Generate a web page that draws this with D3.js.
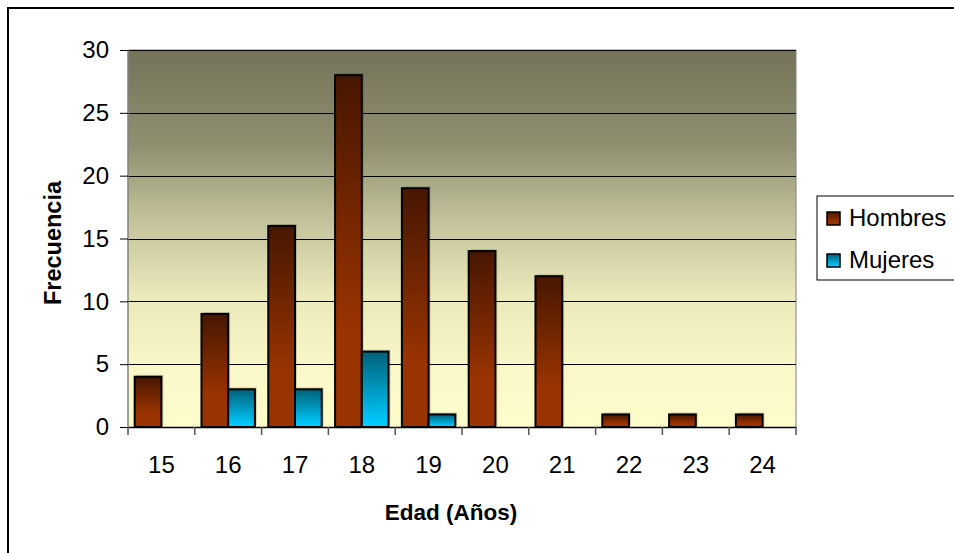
<!DOCTYPE html>
<html><head><meta charset="utf-8">
<script src="https://cdn.jsdelivr.net/npm/d3@7"></script>
<style>body{margin:0;background:#fff}svg{display:block}text{font-family:"Liberation Sans",Arial,sans-serif;fill:#000}</style>
</head><body><svg id="c" width="954" height="553"></svg>
<script>
const categories = ["15","16","17","18","19","20","21","22","23","24"];
const hombres = [4,9,16,28,19,14,12,1,1,1];
const mujeres = [0,3,3,6,1,0,0,0,0,0];
const seriesNames = ["Hombres","Mujeres"];
const yTicks = [0,5,10,15,20,25,30];

const FS = 24;
const svg = d3.select("#c");
const m = {l:128, r:796, t:50, b:427};
const defs = svg.append("defs");
const bg = defs.append("linearGradient").attr("id","bg").attr("x1",0).attr("y1",0).attr("x2",0).attr("y2",1);
[[0,"#74735a"],[0.25,"#8f8f70"],[0.45,"#c3c29b"],[0.65,"#ebe8ba"],[0.85,"#faf7c8"],[1,"#fffccc"]].forEach(s=>bg.append("stop").attr("offset",s[0]).attr("stop-color",s[1]));
const gH = defs.append("linearGradient").attr("id","gH").attr("x1",0).attr("y1",0).attr("x2",0).attr("y2",1);
[[0,"#471600"],[0.72,"#993300"],[1,"#993300"]].forEach(s=>gH.append("stop").attr("offset",s[0]).attr("stop-color",s[1]));
const gM = defs.append("linearGradient").attr("id","gM").attr("x1",0).attr("y1",0).attr("x2",0).attr("y2",1);
[[0,"#006078"],[0.95,"#00ccff"],[1,"#00ccff"]].forEach(s=>gM.append("stop").attr("offset",s[0]).attr("stop-color",s[1]));

// outer frame
svg.append("rect").attr("x",8).attr("y",8).attr("width",960).attr("height",560).attr("fill","#fff").attr("stroke","#000").attr("stroke-width",2);

const x = d3.scaleBand().domain(categories).range([m.l,m.r]);
const x1 = d3.scaleBand().domain(seriesNames).range([0,x.bandwidth()]).paddingInner(0).paddingOuter(0.25);
const y = d3.scaleLinear().domain([0,30]).range([m.b,m.t]);

svg.append("rect").attr("x",m.l).attr("y",m.t).attr("width",m.r-m.l).attr("height",m.b-m.t).attr("fill","url(#bg)");
svg.append("line").attr("x1",m.r).attr("x2",m.r).attr("y1",m.t).attr("y2",m.b).attr("stroke","#808080").attr("stroke-width",1);
svg.append("line").attr("x1",m.l).attr("x2",m.r).attr("y1",m.t).attr("y2",m.t).attr("stroke","#808080").attr("stroke-width",1);

// gridlines
svg.append("g").selectAll("line").data(yTicks.filter(d=>d>0)).join("line")
  .attr("x1",m.l).attr("x2",m.r).attr("y1",d=>Math.round(y(d))+0.5).attr("y2",d=>Math.round(y(d))+0.5)
  .attr("stroke","#000").attr("stroke-width",1);

const data = [];
categories.forEach((c,i)=>{data.push({c,s:"Hombres",v:hombres[i]});data.push({c,s:"Mujeres",v:mujeres[i]});});
const bars = data.filter(d=>d.v>0);
const g = svg.append("g");
g.selectAll("rect.sh").data(bars).join("rect").attr("class","sh")
  .attr("x",d=>x(d.c)+x1(d.s)+2).attr("y",d=>y(d.v)-2).attr("width",x1.bandwidth()).attr("height",d=>y(0)-y(d.v))
  .attr("fill","#000").attr("opacity",0.15);
g.selectAll("rect.b").data(bars).join("rect").attr("class","b")
  .attr("x",d=>x(d.c)+x1(d.s)).attr("y",d=>y(d.v)).attr("width",x1.bandwidth()).attr("height",d=>y(0)-y(d.v))
  .attr("fill",d=>d.s==="Hombres"?"url(#gH)":"url(#gM)").attr("stroke","#000").attr("stroke-width",2);

// y axis
const ya = svg.append("g").attr("transform",`translate(${m.l},0)`)
  .call(d3.axisLeft(y).tickValues(yTicks).tickSize(8).tickPadding(11));
ya.select(".domain").attr("stroke","#808080").attr("stroke-width",1.5).attr("d",`M0,${m.t}V${m.b}`);
ya.selectAll(".tick line").attr("stroke","#000");
ya.selectAll("text").attr("font-size",FS).attr("font-family","Liberation Sans, Arial, sans-serif").attr("fill","#000");

// x axis
const xa = svg.append("g").attr("transform",`translate(0,${m.b})`)
  .call(d3.axisBottom(x).tickSize(0).tickPadding(29));
xa.select(".domain").attr("stroke","#000").attr("stroke-width",1.5);
xa.selectAll("text").attr("font-size",FS).attr("font-family","Liberation Sans, Arial, sans-serif").attr("fill","#000");
svg.append("g").selectAll("line").data(categories.concat(["end"])).join("line")
  .attr("x1",(d,i)=>m.l + i*x.step()).attr("x2",(d,i)=>m.l + i*x.step())
  .attr("y1",m.b).attr("y2",m.b+8).attr("stroke","#555").attr("stroke-width",1.5);

// axis titles
svg.append("text").attr("x",451).attr("y",520).attr("text-anchor","middle").attr("font-size",22.5).attr("font-weight","bold").text("Edad (Años)");
svg.append("text").attr("transform","translate(61,243) rotate(-90)").attr("text-anchor","middle").attr("font-size",23.5).attr("font-weight","bold").text("Frecuencia");

// legend
const lg = svg.append("g");
lg.append("rect").attr("x",817).attr("y",196).attr("width",150).attr("height",84).attr("fill","#fff").attr("stroke","#000").attr("stroke-width",1);
seriesNames.forEach((s,i)=>{
  const yy = 212 + i*42;
  lg.append("rect").attr("x",827).attr("y",yy).attr("width",13).attr("height",13)
    .attr("fill",i===0?"url(#gH)":"url(#gM)").attr("stroke","#000").attr("stroke-width",1.5);
  lg.append("text").attr("x",849).attr("y",yy+14).attr("font-size",FS).text(s);
});
</script></body></html>
